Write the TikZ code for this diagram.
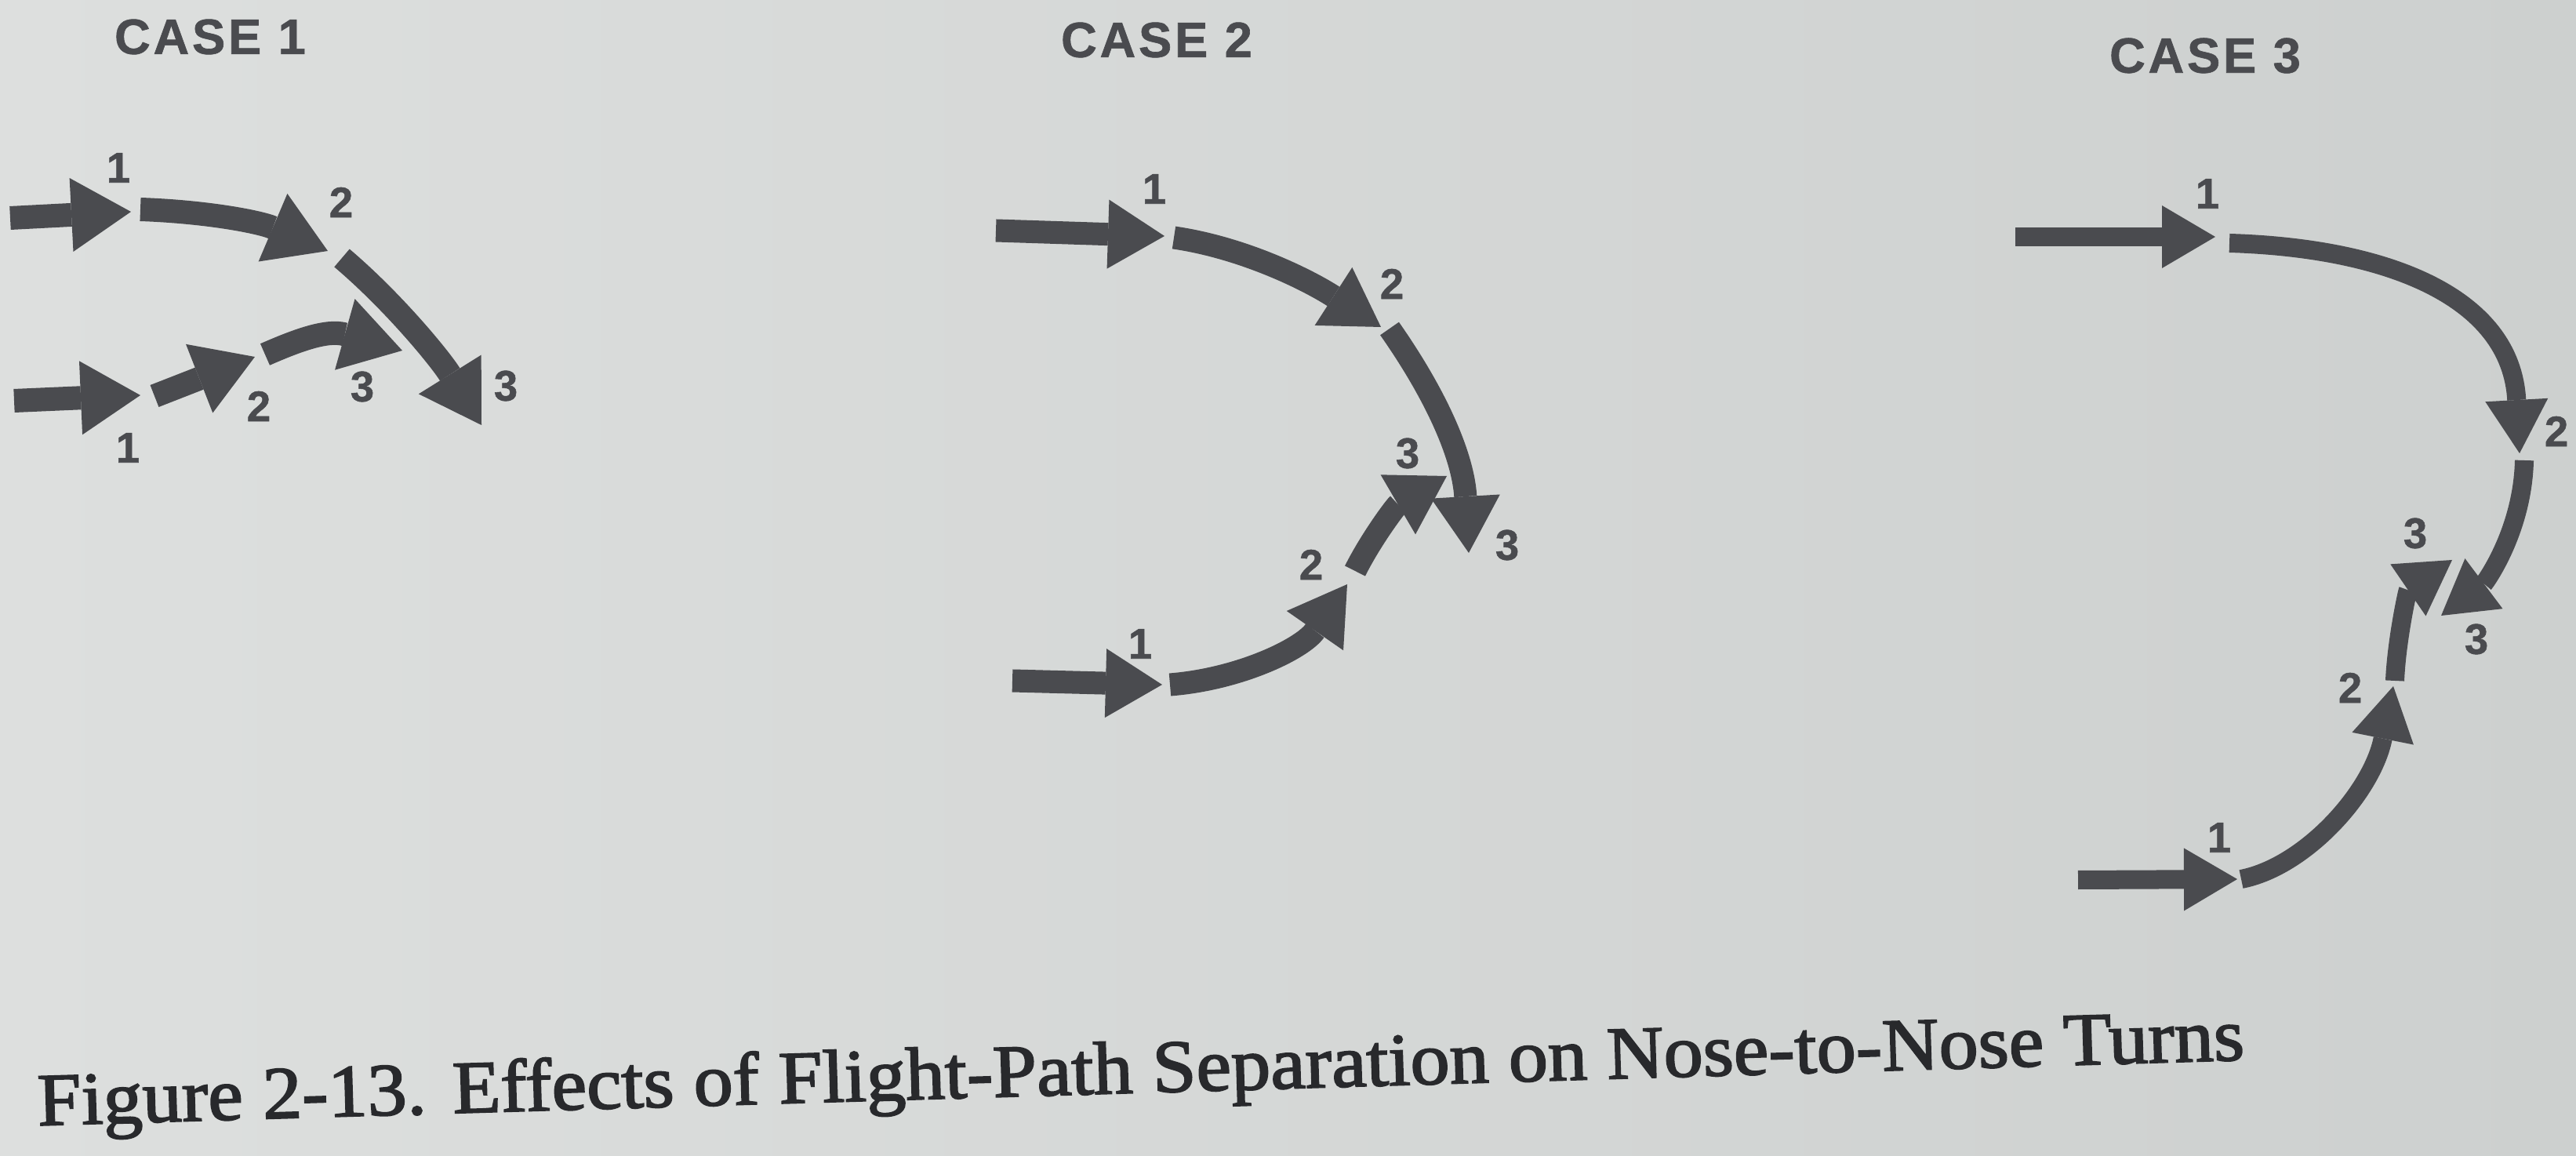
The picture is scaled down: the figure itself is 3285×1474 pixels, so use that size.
\documentclass[tikz,border=0pt]{standalone}
\usepackage{fontspec}
\setmainfont{Liberation Serif}
\newfontfamily\capfont[FakeBold=2]{Liberation Serif}
\newfontfamily\headsans[LetterSpace=6,FakeBold=1]{Liberation Sans Bold}
\newfontfamily\digsans[FakeBold=1]{Liberation Sans Bold}
\usetikzlibrary{arrows.meta}
\definecolor{ink}{HTML}{4A4B4F}
\definecolor{capink}{HTML}{28292C}
\definecolor{bgL}{HTML}{DDDFDE}
\definecolor{bgR}{HTML}{CDD0CF}
\tikzset{
  flightA/.style={draw=ink, line width=0.30cm, -{Triangle[length=0.76cm,width=0.94cm,line width=0pt]}},
  flightB/.style={draw=ink, line width=0.29cm, -{Triangle[length=0.72cm,width=0.88cm,line width=0pt]}},
  flightC/.style={draw=ink, line width=0.24cm, -{Triangle[length=0.68cm,width=0.80cm,line width=0pt]}},
  num/.style={font=\digsans\fontsize{15.5}{15.5}\selectfont, text=ink, inner sep=0pt},
  casetitle/.style={font=\headsans\fontsize{18}{20}\selectfont, text=ink, inner sep=0pt},
}
\begin{document}
\begin{tikzpicture}[x=0.01cm,y=-0.01cm]
\useasboundingbox (0,0) rectangle (3285,1474);
\shade[left color=bgL, right color=bgR] (0,0) rectangle (3285,1474);

% ---------------- CASE 1 ----------------
\node[casetitle] (t1) at (268,47) {CASE 1};
\coordinate (a1s) at (13,278);   \coordinate (a1t) at (167,270);
\coordinate (a2s) at (179,267);  \coordinate (a2t) at (418,320);
\coordinate (a3s) at (436,329);  \coordinate (a3t) at (614,542);
\coordinate (a4s) at (18,511);   \coordinate (a4t) at (179,504);
\coordinate (a5s) at (197,505);  \coordinate (a5t) at (325,455);
\coordinate (a6s) at (338,452);  \coordinate (a6t) at (513,447);
\draw[flightA] (a1s) -- (a1t);
\draw[flightA] (a2s) .. controls (264,270) and (331,283) .. (a2t);
\draw[flightA] (a3s) .. controls (501,384) and (561,457) .. (a3t);
\draw[flightA] (a4s) -- (a4t);
\draw[flightA] (a5s) -- (a5t);
\draw[flightA] (a6s) .. controls (379,434) and (417,420) .. (a6t);
\node[num] (n11) at (151,214) {1};
\node[num] (n12) at (435,258) {2};
\node[num] (n13) at (645,492) {3};
\node[num] (m11) at (163,571) {1};
\node[num] (m12) at (330,518) {2};
\node[num] (m13) at (462,493) {3};

% ---------------- CASE 2 ----------------
\node[casetitle] (t2) at (1475,51) {CASE 2};
\coordinate (b1s) at (1270,294); \coordinate (b1t) at (1485,301);
\coordinate (b2s) at (1497,303); \coordinate (b2t) at (1761,417);
\coordinate (b3s) at (1772,419); \coordinate (b3t) at (1873,705);
\coordinate (b4s) at (1291,868); \coordinate (b4t) at (1482,873);
\coordinate (b5s) at (1492,873); \coordinate (b5t) at (1718,745);
\coordinate (b6s) at (1728,728); \coordinate (b6t) at (1845,607);
\draw[flightB] (b1s) -- (b1t);
\draw[flightB] (b2s) .. controls (1586,316) and (1668,357) .. (b2t);
\draw[flightB] (b3s) .. controls (1835,509) and (1866,585) .. (b3t);
\draw[flightB] (b4s) -- (b4t);
\draw[flightB] (b5s) .. controls (1581,866) and (1661,827) .. (b5t);
\draw[flightB] (b6s) .. controls (1748,688) and (1780,645) .. (b6t);
\node[num] (n21) at (1472,241) {1};
\node[num] (n22) at (1775,362) {2};
\node[num] (n23) at (1922,695) {3};
\node[num] (m21) at (1454,821) {1};
\node[num] (m22) at (1672,720) {2};
\node[num] (m23) at (1795,578) {3};

% ---------------- CASE 3 ----------------
\node[casetitle] (t3) at (2812,71) {CASE 3};
\coordinate (c1s) at (2570,302); \coordinate (c1t) at (2825,302);
\coordinate (c2s) at (2843,310); \coordinate (c2t) at (3213,578);
\coordinate (c3s) at (3219,587); \coordinate (c3t) at (3113,785);
\coordinate (c4s) at (2650,1122); \coordinate (c4t) at (2853,1121);
\coordinate (c5s) at (2858,1121); \coordinate (c5t) at (3052,875);
\coordinate (c6s) at (3054,868); \coordinate (c6t) at (3127,714);
\draw[flightC] (c1s) -- (c1t);
\draw[flightC] (c2s) .. controls (3043,316) and (3202,378) .. (c2t);
\draw[flightC] (c3s) .. controls (3217,677) and (3169,743) .. (c3t);
\draw[flightC] (c4s) -- (c4t);
\draw[flightC] (c5s) .. controls (2940,1105) and (3025,1010) .. (c5t);
\draw[flightC] (c6s) .. controls (3056,818) and (3070,753) .. (c6t);
\node[num] (n31) at (2815,247) {1};
\node[num] (n32) at (3260,550) {2};
\node[num] (n33) at (3158,815) {3};
\node[num] (m31) at (2830,1068) {1};
\node[num] (m32) at (2997,877) {2};
\node[num] (m33) at (3080,680) {3};

% ---------------- caption ----------------
\node[anchor=base west, rotate=1.7, inner sep=0pt, text=capink] (cap) at (48,1435)
  {\scalebox{1.053}[1]{\capfont\fontsize{27.1}{30}\selectfont Figure 2-13. Effects of Flight-Path Separation on Nose-to-Nose Turns}};
\end{tikzpicture}
\end{document}
